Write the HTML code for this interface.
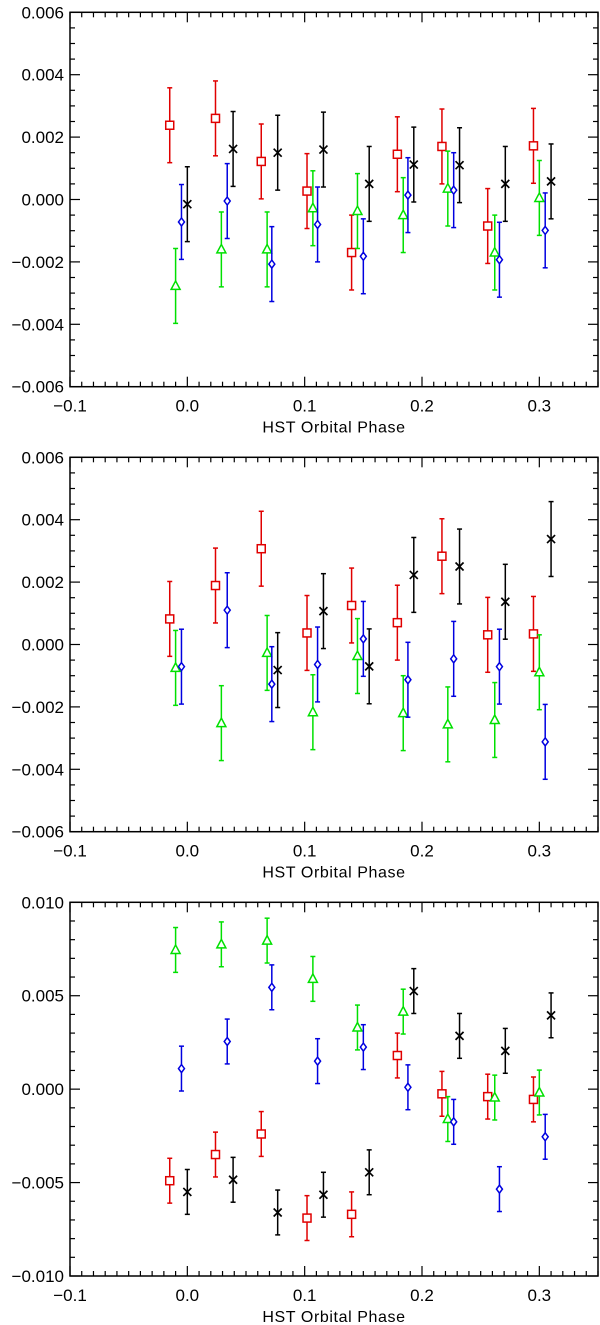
<!DOCTYPE html>
<html><head><meta charset="utf-8"><style>
html,body{margin:0;padding:0;background:#fff;}
svg{display:block;}
text{font-family:"Liberation Sans",sans-serif;fill:#000;}
</style></head><body>
<svg id="fig" width="600" height="1325" viewBox="0 0 600 1325" xmlns="http://www.w3.org/2000/svg"></svg>
<script>
// ---- data ----
const xRed=[-0.015,0.024,0.063,0.102,0.140,0.179,0.217,0.256,0.295];
const xGreen=[-0.010,0.029,0.068,0.107,0.145,0.184,0.222,0.262,0.300];
const xBlue=[-0.005,0.034,0.072,0.111,0.150,0.188,0.227,0.266,0.305];
const xBlack=[0.000,0.039,0.077,0.116,0.155,0.193,0.232,0.271,0.310];
const errBar=0.0012;
// panel 1
const p1Red=[0.00238,0.00260,0.00122,0.00027,-0.00170,0.00145,0.00170,-0.00085,0.00172];
const p1Blue=[-0.00072,-0.00005,-0.00207,-0.00080,-0.00182,0.00014,0.00030,-0.00193,-0.00099];
const p1Green=[-0.00277,-0.00160,-0.00160,-0.00028,-0.00037,-0.00050,0.00035,-0.00170,0.00005];
const p1Black=[-0.00015,0.00162,0.00150,0.00160,0.00050,0.00112,0.00110,0.00050,0.00058];
// panel 2
const p2Red=[0.00082,0.00189,0.00307,0.00037,0.00125,0.00070,0.00283,0.00031,0.00034];
const p2Blue=[-0.00071,0.00110,-0.00127,-0.00064,0.00018,-0.00113,-0.00046,-0.00071,-0.00312];
const p2Green=[-0.00075,-0.00252,-0.00027,-0.00217,-0.00037,-0.00220,-0.00256,-0.00242,-0.00089];
const p2Black=[null,null,-0.00082,0.00107,-0.00070,0.00223,0.00250,0.00137,0.00338];
// panel 3
const p3Red=[-0.0049,-0.0035,-0.0024,-0.0069,-0.0067,0.0018,-0.00025,-0.0004,-0.00055];
const p3Blue=[0.0011,0.00255,0.00545,0.0015,0.00225,0.0001,-0.00175,-0.00535,-0.00255];
const p3Green=[0.00745,0.00775,0.00795,0.0059,0.0033,0.00415,-0.0016,-0.00045,-0.00018];
const p3Black=[-0.0055,-0.00485,-0.0066,-0.00565,-0.00445,0.00525,0.00285,0.00205,0.00395];
const xTicks=[-0.1,0.0,0.1,0.2,0.3];
const xTickLabels=["\u22120.1","0.0","0.1","0.2","0.3"];
const yTicksA=[-0.006,-0.004,-0.002,0,0.002,0.004,0.006];
const yTickLabelsA=["\u22120.006","\u22120.004","\u22120.002","0.000","0.002","0.004","0.006"];
const yTicksB=[-0.010,-0.005,0,0.005,0.010];
const yTickLabelsB=["\u22120.010","\u22120.005","0.000","0.005","0.010"];

const NS="http://www.w3.org/2000/svg";
const svg=document.getElementById('fig');
function mk(tag,attrs,parent){const e=document.createElementNS(NS,tag);for(const k in attrs)e.setAttribute(k,attrs[k]);(parent||svg).appendChild(e);return e;}

const L=70,R=598,xmin=-0.1,xmax=0.35;
function X(v){return L+(v-xmin)/(xmax-xmin)*(R-L);}

function panel(idx,top,bottom,ymin,ymax,yT,yTL,yMinorStep,series){
  const g=mk('g',{});
  
  
  const Y=v=>bottom-(v-ymin)/(ymax-ymin)*(bottom-top);
  const frame=mk('rect',{x:L,y:top,width:R-L,height:bottom-top,fill:'none',stroke:'#000','stroke-width':1.5},g);
  
  
  for(let i=0;i<=45;i++){
    const v=xmin+i*0.01;const px=X(v);const major=(i%10===0);const len=major?10:5;
    mk('line',{x1:px,y1:bottom,x2:px,y2:bottom-len,stroke:'#000','stroke-width':1.2},g);
    mk('line',{x1:px,y1:top,x2:px,y2:top+len,stroke:'#000','stroke-width':1.2},g);
  }
  xTicks.forEach((v,i)=>{
    const t=mk('text',{x:X(v),y:bottom+25,'font-size':17,'text-anchor':'middle'},g);
    t.textContent=xTickLabels[i];
    
    
  });
  const xt=mk('text',{x:334,y:bottom+46,'font-size':16,'text-anchor':'middle','letter-spacing':'0.6'},g);
  xt.textContent='HST Orbital Phase';
  
  
  const n=Math.round((ymax-ymin)/yMinorStep);
  for(let i=0;i<=n;i++){
    const v=ymin+i*yMinorStep;const py=Y(v);
    const major=yT.some(t=>Math.abs(t-v)<1e-9);const len=major?10:5;
    mk('line',{x1:L,y1:py,x2:L+len,y2:py,stroke:'#000','stroke-width':1.2},g);
    mk('line',{x1:R,y1:py,x2:R-len,y2:py,stroke:'#000','stroke-width':1.2},g);
  }
  yT.forEach((v,i)=>{
    const t=mk('text',{x:64,y:Y(v)+6,'font-size':17,'text-anchor':'end'},g);
    t.textContent=yTL[i];
    
    
  });
  series.forEach(s=>{
    const sg=mk('g',{},g);
    
    
    s.ys.forEach((v,i)=>{
      if(v===null)return;
      const px=X(s.xs[i]),py=Y(v),pt=Y(v+errBar),pb=Y(v-errBar);
      const st={stroke:s.color,'stroke-width':1.5,fill:'none'};
      mk('line',Object.assign({x1:px,y1:pt,x2:px,y2:pb},st),sg);
      mk('line',Object.assign({x1:px-2.5,y1:pt,x2:px+2.5,y2:pt},st),sg);
      mk('line',Object.assign({x1:px-2.5,y1:pb,x2:px+2.5,y2:pb},st),sg);
      let m;
      if(s.marker==='square'){m=mk('rect',{x:px-4,y:py-4,width:8,height:8,fill:'#fff',stroke:s.color,'stroke-width':1.5},sg);}
      else if(s.marker==='diamond'){m=mk('polygon',{points:`${px},${py-4} ${px+3},${py} ${px},${py+4} ${px-3},${py}`,fill:'#fff',stroke:s.color,'stroke-width':1.5},sg);}
      else if(s.marker==='triangle'){m=mk('polygon',{points:`${px},${py-5} ${px+4.5},${py+3.5} ${px-4.5},${py+3.5}`,fill:'#fff',stroke:s.color,'stroke-width':1.5},sg);}
      else {m=mk('path',{d:`M${px-4},${py-4}L${px+4},${py+4}M${px+4},${py-4}L${px-4},${py+4}`,stroke:s.color,'stroke-width':1.7,fill:'none'},sg);}
      
      
    });
  });
}
function ser(r,g,b,k){return [
  {name:'red',xs:xRed,ys:r,color:'#e00000',marker:'square'},
  {name:'green',xs:xGreen,ys:g,color:'#00e000',marker:'triangle'},
  {name:'blue',xs:xBlue,ys:b,color:'#0000e0',marker:'diamond'},
  {name:'black',xs:xBlack,ys:k,color:'#000',marker:'x'}];}
panel(1,12.3,386.7,-0.006,0.006,yTicksA,yTickLabelsA,0.0005,ser(p1Red,p1Green,p1Blue,p1Black));
panel(2,457.3,831.7,-0.006,0.006,yTicksA,yTickLabelsA,0.0005,ser(p2Red,p2Green,p2Blue,p2Black));
panel(3,902.3,1276,-0.010,0.010,yTicksB,yTickLabelsB,0.001,ser(p3Red,p3Green,p3Blue,p3Black));
</script>
</body></html>
